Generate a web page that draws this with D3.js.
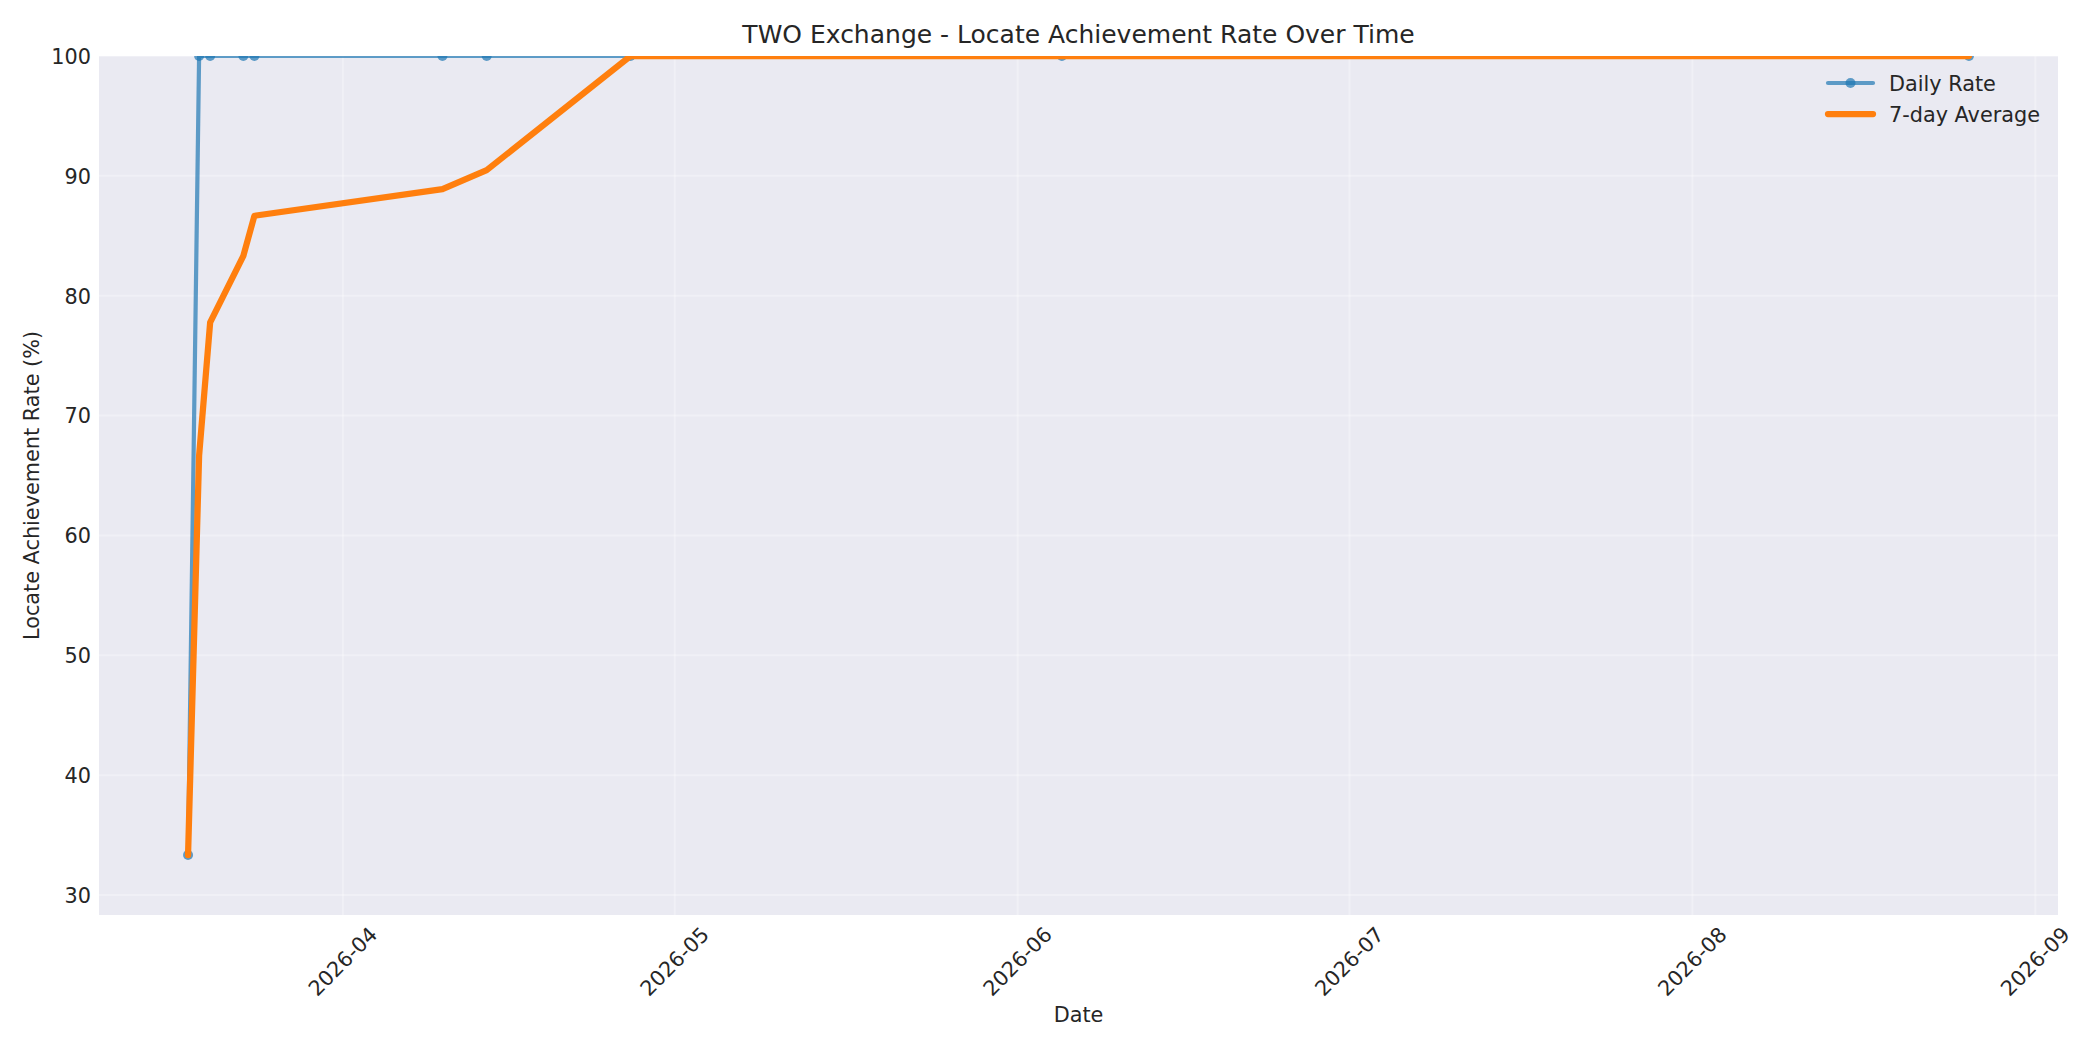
<!DOCTYPE html>
<html>
<head>
<meta charset="utf-8">
<script src="https://cdn.jsdelivr.net/npm/d3@7"></script>
<style>
  html, body { margin: 0; padding: 0; background: #fff; }
  svg text { font-family: "DejaVu Sans", sans-serif; fill: #262626; }
</style>
</head>
<body>
<svg id="chart" width="2100" height="1050"></svg>
<script>
// ---- data ----
const dates = ["2026-03-18", "2026-03-19", "2026-03-20", "2026-03-23", "2026-03-24",
               "2026-04-10", "2026-04-14", "2026-04-27", "2026-06-05", "2026-08-26"];
const dailyRate = [33.33, 100, 100, 100, 100, 100, 100, 100, 100, 100];
const avg7 = [33.33, 66.67, 77.78, 83.33, 86.67, 88.89, 90.48, 100, 100, 100];
const yTicks = [30, 40, 50, 60, 70, 80, 90, 100];
const xTickDates = ["2026-04-01", "2026-05-01", "2026-06-01", "2026-07-01", "2026-08-01", "2026-09-01"];
const seriesNames = ["Daily Rate", "7-day Average"];
const titleText = "TWO Exchange - Locate Achievement Rate Over Time";

(function () {
  "use strict";

  const parse = d3.utcParse("%Y-%m-%d");
  const fmt = d3.utcFormat("%Y-%m");

  const W = 2100, H = 1050;
  const plot = { left: 99, right: 2058, top: 56, bottom: 915 };

  const blue = "#1f77b4", orange = "#ff7f0e";
  const tickFs = 20.8, labelFs = 20.8, titleFs = 25;

  const rows = dates.map((d, i) => ({ date: parse(d), daily: dailyRate[i], avg: avg7[i] }));

  // x domain with 5% margins like matplotlib
  const t0 = rows[0].date.getTime(), t1 = rows[rows.length - 1].date.getTime();
  const pad = (t1 - t0) * 0.05;
  const x = d3.scaleUtc()
    .domain([new Date(t0 - pad), new Date(t1 + pad)])
    .range([plot.left, plot.right]);

  const yMin = d3.min(dailyRate) - 5;
  const y = d3.scaleLinear().domain([yMin, 100]).range([plot.bottom, plot.top]);

  const svg = d3.select("#chart");

  svg.append("rect").attr("width", W).attr("height", H).attr("fill", "#fff");

  // axes background
  svg.append("rect")
    .attr("x", plot.left).attr("y", plot.top)
    .attr("width", plot.right - plot.left)
    .attr("height", plot.bottom - plot.top)
    .attr("fill", "#EAEAF2");

  svg.append("clipPath").attr("id", "plotclip")
    .append("rect")
    .attr("x", plot.left).attr("y", plot.top)
    .attr("width", plot.right - plot.left)
    .attr("height", plot.bottom - plot.top);

  // grid
  const grid = svg.append("g").attr("clip-path", "url(#plotclip)");
  const xTicks = xTickDates.map(parse);
  grid.selectAll(".vgrid").data(xTicks).enter().append("line")
    .attr("x1", d => x(d)).attr("x2", d => x(d))
    .attr("y1", plot.top).attr("y2", plot.bottom)
    .attr("stroke", "#fff").attr("stroke-opacity", 0.3).attr("stroke-width", 2);
  grid.selectAll(".hgrid").data(yTicks).enter().append("line")
    .attr("y1", d => y(d)).attr("y2", d => y(d))
    .attr("x1", plot.left).attr("x2", plot.right)
    .attr("stroke", "#fff").attr("stroke-opacity", 0.3).attr("stroke-width", 2);

  // series
  const marks = svg.append("g").attr("clip-path", "url(#plotclip)");

  const lineDaily = d3.line().x(d => x(d.date)).y(d => y(d.daily));
  const lineAvg = d3.line().x(d => x(d.date)).y(d => y(d.avg));

  marks.append("path")
    .datum(rows)
    .attr("d", lineDaily)
    .attr("fill", "none")
    .attr("stroke", blue)
    .attr("stroke-opacity", 0.7)
    .attr("stroke-width", 4.2)
    .attr("stroke-linejoin", "round")
    .attr("stroke-linecap", "round");

  marks.selectAll(".dot").data(rows).enter().append("circle")
    .attr("cx", d => x(d.date))
    .attr("cy", d => y(d.daily))
    .attr("r", 5)
    .attr("fill", blue)
    .attr("fill-opacity", 0.7);

  marks.append("path")
    .datum(rows)
    .attr("d", lineAvg)
    .attr("fill", "none")
    .attr("stroke", orange)
    .attr("stroke-width", 6.25)
    .attr("stroke-linejoin", "round")
    .attr("stroke-linecap", "round");

  // y tick labels
  svg.append("g").selectAll("text").data(yTicks).enter().append("text")
    .attr("x", 91)
    .attr("y", d => y(d) + 7.8)
    .attr("text-anchor", "end")
    .attr("font-size", tickFs)
    .text(d => d);

  // x tick labels, rotated 45deg, bbox centered on the tick, top under the axes
  const xl = svg.append("g");
  xTicks.forEach(d => {
    const t = xl.append("text")
      .attr("font-size", tickFs)
      .attr("text-anchor", "middle")
      .attr("dominant-baseline", "central")
      .text(fmt(d));
    const w = t.node().getComputedTextLength();
    const h = tickFs * 1.164;
    const hb = (w + h) * Math.SQRT1_2;
    t.attr("transform", `translate(${x(d)},${plot.bottom + 7.3 + hb / 2}) rotate(-45)`);
  });

  // axis labels
  svg.append("text")
    .attr("x", (plot.left + plot.right) / 2)
    .attr("y", 1021.7)
    .attr("text-anchor", "middle")
    .attr("font-size", labelFs)
    .text("Date");

  svg.append("text")
    .attr("transform", `translate(38.5,${(plot.top + plot.bottom) / 2}) rotate(-90)`)
    .attr("text-anchor", "middle")
    .attr("font-size", labelFs)
    .text("Locate Achievement Rate (%)");

  // title
  svg.append("text")
    .attr("x", (plot.left + plot.right) / 2)
    .attr("y", 42.7)
    .attr("text-anchor", "middle")
    .attr("font-size", titleFs)
    .text(titleText);

  // legend (no frame)
  const lg = svg.append("g");
  const lx0 = 1828, lx1 = 1873, ltx = 1889;
  const rowsY = [83, 114];

  lg.append("line")
    .attr("x1", lx0).attr("x2", lx1).attr("y1", rowsY[0]).attr("y2", rowsY[0])
    .attr("stroke", blue).attr("stroke-opacity", 0.7).attr("stroke-width", 4.2)
    .attr("stroke-linecap", "round");
  lg.append("circle")
    .attr("cx", (lx0 + lx1) / 2).attr("cy", rowsY[0]).attr("r", 5)
    .attr("fill", blue).attr("fill-opacity", 0.7);
  lg.append("line")
    .attr("x1", lx0).attr("x2", lx1).attr("y1", rowsY[1]).attr("y2", rowsY[1])
    .attr("stroke", orange).attr("stroke-width", 6.25)
    .attr("stroke-linecap", "round");

  lg.selectAll(".lt").data(seriesNames).enter().append("text")
    .attr("x", ltx)
    .attr("y", (d, i) => rowsY[i] + 7.6)
    .attr("font-size", tickFs)
    .text(d => d);
})();
</script>
</body>
</html>
